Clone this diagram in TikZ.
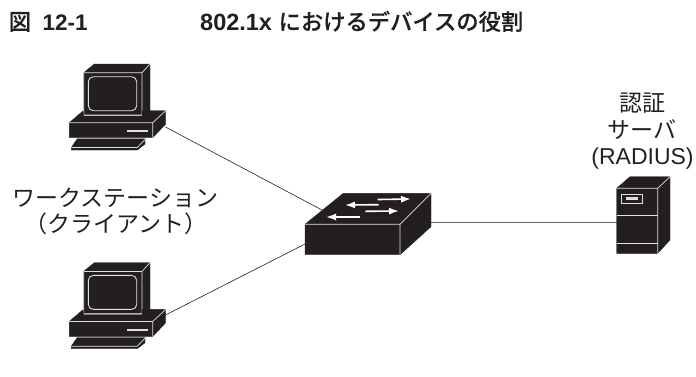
\documentclass[tikz,border=0pt]{standalone}
\usepackage{fontspec}
\setmainfont{Liberation Sans}
\newfontfamily\jpfont{Noto Sans CJK JP}
\newfontfamily\jpmed[FakeBold=0.25]{Noto Sans CJK JP Medium}
\usetikzlibrary{arrows.meta}
\definecolor{ink}{HTML}{231F20}
\definecolor{edge}{HTML}{E0E0E0}
\tikzset{
  body/.style={fill=ink,draw=ink,line width=0.4pt,line join=round},
  seam/.style={draw=edge,line width=0.7pt},
  link/.style={draw=ink,line width=0.6pt},
  flow/.style={white,line width=1.6pt,-{Latex[length=10pt,width=7pt]}},
  title/.style={inner sep=0pt,anchor=base west,text=ink,font=\fontsize{22.5}{25}\selectfont\bfseries},
  lab/.style={inner sep=0pt,anchor=base,text=ink,font=\fontsize{23}{26}\selectfont},
  pics/workstation/.style={code={
    \path[body] (83.7,72.7) -- (94.3,64) -- (150,64) -- (150,111.7) -- (142,115) -- (83.7,115) -- cycle;
    \draw[seam] (83.7,72.7) -- (142,72.7) -- (150,64) (142,72.7) -- (142,115) (83.7,72.7) -- (83.7,115) -- (142,115);
    \draw[seam,rounded corners=5pt,line width=0.9pt] (88.3,76.7) rectangle (136.7,110.7);
    \path[body] (69.3,122.7) -- (83,111) -- (83.7,116) -- (142,116) -- (142,110.7) -- (165.7,110.7) -- (165.7,124) -- (152.7,137.7) -- (69.3,137.7) -- cycle;
    \draw[seam] (69.3,122.7) -- (152.7,122.7) -- (165.7,110.7) (152.7,122.7) -- (152.7,137.7);
    \fill[edge] (127,130) rectangle (148.3,132.3);
    \path[body] (77.3,138.8) -- (145,138.8) -- (145,144) -- (137.3,150) -- (71.3,150) -- (71.3,147.5) -- cycle;
    \draw[seam] (71.3,147.5) -- (137.3,147.5) -- (145,139.5);
  }}
}
\begin{document}
\begin{tikzpicture}[x=1pt,y=-1pt]
\useasboundingbox (0,0) rectangle (696,376);
% devices
\pic (pcA) at (0,0) {workstation};
\pic (pcB) at (0,198.7) {workstation};
\coordinate (pcAport) at (165.5,127);
\coordinate (pcBport) at (165.5,315);
\coordinate (swA) at (322,210);
\coordinate (swB) at (305,244);
\coordinate (swC) at (431,222);
\coordinate (srv) at (617,222);
\draw[link] (pcAport) -- (swA);
\draw[link] (pcBport) -- (swB);
\draw[link,draw=ink!70] (swC) -- (srv);
% switch
\path[body] (305,224.3) -- (343.3,193.3) -- (431,193.3) -- (431,226.7) -- (400,254.7) -- (305,254.7) -- cycle;
\draw[seam] (305,224.3) -- (400,224.3) -- (431,193.3) (400,224.3) -- (400,254.7);
\coordinate (a1s) at (377.7,199.5); \coordinate (a1e) at (411,199);
\coordinate (a2s) at (378.5,204.7); \coordinate (a2e) at (345,205);
\coordinate (a3s) at (365.3,211.3); \coordinate (a3e) at (399,211);
\coordinate (a4s) at (360,217); \coordinate (a4e) at (326,217);
\draw[flow] (a1s) -- (a1e);
\draw[flow] (a2s) -- (a2e);
\draw[flow] (a3s) -- (a3e);
\draw[flow] (a4s) -- (a4e);
% server
\path[body] (616.7,188.3) -- (630,176.7) -- (670,176.7) -- (670,240) -- (657.7,253.3) -- (616.7,253.3) -- cycle;
\draw[seam] (616.7,188.3) -- (657.7,188.3) -- (670,176.7) (657.7,188.3) -- (657.7,253.3);
\draw[seam] (616.7,215) -- (657.7,215) (616.7,243.3) -- (657.7,243.3);
\draw[edge,line width=0.8pt] (621,194) rectangle (642.7,203.3);
\fill[edge] (626,197.3) rectangle (637.7,200);
% title
\node[title] (figj) at (8.5,30) {\jpmed\mdseries 図};
\node[title] (fign) at (42.5,30) {12-1};
\node[title,font=\fontsize{23.5}{25}\selectfont\bfseries] (figt) at (200,30) {802.1x {\jpmed\mdseries\fontsize{22.3}{25}\selectfont におけるデバイスの役割}};
% labels
\node[lab] (auth) at (642,111) {\jpfont 認証};
\node[lab] (server) at (642,138) {\jpfont サーバ};
\node[lab] (radius) at (642.5,164) {(RADIUS)};
\node[lab] (ws) at (115.5,206) {\jpfont ワークステーション};
\node[lab] (cl) at (116,232) {\jpfont （クライアント）};
\end{tikzpicture}
\end{document}
